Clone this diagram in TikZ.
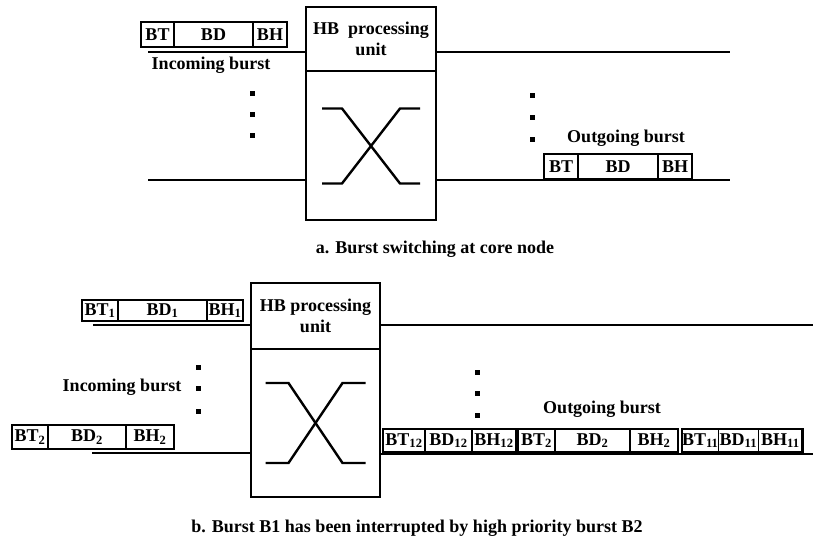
\documentclass[tikz,border=0pt]{standalone}
\usepackage{fontspec}
\setmainfont{Liberation Serif}
\usetikzlibrary{positioning}
\tikzset{cell/.style={rectangle,draw,line width=1.2pt,inner sep=0pt,outer sep=0pt,minimum height=24pt,minimum width=#1},frame/.style={line width=2.4pt},unitbox/.style={rectangle,draw,line width=2.2pt,align=center,inner sep=0pt,outer sep=0pt,minimum width=130pt},line/.style={line width=2.4pt},dot/.style={rectangle,fill,inner sep=0pt,minimum size=5pt}}

\begin{document}
\begin{tikzpicture}[x=1pt,y=-1pt,node distance=0pt,font=\fontsize{18}{20}\selectfont\bfseries]
\useasboundingbox (0,0) rectangle (814,540);

\node[unitbox,minimum height=64pt] (hba) at (371,39) {HB\enspace processing\\[1pt]unit};
\node[unitbox,minimum height=149pt,below=of hba] (swa) {};
\draw[line] ([shift={(-49,-37)}]swa.center) -- ++(20,0) -- ++(58,75) -- ++(20,0);
\draw[line] ([shift={(-49,38)}]swa.center) -- ++(20,0) -- ++(58,-75) -- ++(20,0);
\coordinate (ina1) at (148,52);
\coordinate (ina2) at (148,180);
\coordinate (outa1) at (730,52);
\coordinate (outa2) at (730,180);
\draw[line] (ina1) -- (ina1 -| hba.west);
\draw[line] (hba.east |- outa1) -- (outa1);
\draw[line] (ina2) -- (ina2 -| swa.west);
\draw[line] (swa.east |- outa2) -- (outa2);
\node[cell=33pt,minimum height=25pt] (inbt) at (157.5,34.5) {BT};
\node[cell=79pt,minimum height=25pt,right=of inbt] (inbd) {BD};
\node[cell=34pt,minimum height=25pt,right=of inbd] (inbh) {BH};
\draw[frame] (inbt.north west) rectangle (inbh.south east);
\node[cell=34pt,minimum height=25pt] (outbt) at (561,166.5) {BT};
\node[cell=80pt,minimum height=25pt,right=of outbt] (outbd) {BD};
\node[cell=34pt,minimum height=25pt,right=of outbd] (outbh) {BH};
\draw[frame] (outbt.north west) rectangle (outbh.south east);
\foreach \y in {94,115,136} \node[dot] (dla\y) at (252,\y) {};
\foreach \y in {96,118,140} \node[dot] (dra\y) at (532,\y) {};
\node (inlbla) at (211,65) {Incoming burst};
\node (outlbla) at (626,138) {Outgoing burst};
\node (capa) at (435,249) {a. Burst switching at core node};

\node[unitbox,minimum width=129pt,minimum height=66pt] (hbb) at (315.5,316) {HB processing\\[1pt]unit};
\node[unitbox,minimum width=129pt,minimum height=148pt,below=of hbb] (swb) {};
\draw[line] ([shift={(-50,-40)}]swb.center) -- ++(23,0) -- ++(54,80) -- ++(23,0);
\draw[line] ([shift={(-50,40)}]swb.center) -- ++(23,0) -- ++(54,-80) -- ++(23,0);
\coordinate (inb1) at (93,325);
\coordinate (inb2) at (92,453);
\coordinate (outb1) at (813,325);
\coordinate (outb2) at (813,454);
\draw[line] (inb1) -- (inb1 -| hbb.west);
\draw[line] (hbb.east |- outb1) -- (outb1);
\draw[line] (inb2) -- (inb2 -| swb.west);
\draw[line] (swb.east |- outb2) -- (outb2);
\node[cell=36pt,minimum height=21pt] (bt1) at (100,310.5) {BT\textsubscript{1}};
\node[cell=89pt,minimum height=21pt,right=of bt1] (bd1) {BD\textsubscript{1}};
\node[cell=36pt,minimum height=21pt,right=of bd1] (bh1) {BH\textsubscript{1}};
\draw[frame] (bt1.north west) rectangle (bh1.south east);
\node[cell=36pt] (bt2) at (30,437) {BT\textsubscript{2}};
\node[cell=78pt,right=of bt2] (bd2) {BD\textsubscript{2}};
\node[cell=48pt,right=of bd2] (bh2) {BH\textsubscript{2}};
\draw[frame] (bt2.north west) rectangle (bh2.south east);
\node[cell=42pt,minimum height=23pt] (obt12) at (404,440.5) {BT\textsubscript{12}};
\node[cell=47pt,minimum height=23pt,right=of obt12] (obd12) {BD\textsubscript{12}};
\node[cell=44pt,minimum height=23pt,right=of obd12] (obh12) {BH\textsubscript{12}};
\draw[frame] (obt12.north west) rectangle (obh12.south east);
\node[cell=37pt,minimum height=23pt,right=2pt of obh12] (obt2) {BT\textsubscript{2}};
\node[cell=75pt,minimum height=23pt,right=of obt2] (obd2) {BD\textsubscript{2}};
\node[cell=48pt,minimum height=23pt,right=of obd2] (obh2) {BH\textsubscript{2}};
\draw[frame] (obt2.north west) rectangle (obh2.south east);
\node[cell=36pt,minimum height=23pt,right=4pt of obh2] (obt11) {BT\textsubscript{11}};
\node[cell=40pt,minimum height=23pt,right=of obt11] (obd11) {BD\textsubscript{11}};
\node[cell=44pt,minimum height=23pt,right=of obd11] (obh11) {BH\textsubscript{11}};
\draw[frame] (obt11.north west) rectangle (obh11.south east);
\foreach \y in {367,388,411} \node[dot] (dlb\y) at (198,\y) {};
\foreach \y in {372,393,415} \node[dot] (drb\y) at (477,\y) {};
\node (inlblb) at (122,387) {Incoming burst};
\node (outlblb) at (602,409) {Outgoing burst};
\node (capb) at (417,528) {b. Burst B1 has been interrupted by high priority burst B2};
\end{tikzpicture}
\end{document}
